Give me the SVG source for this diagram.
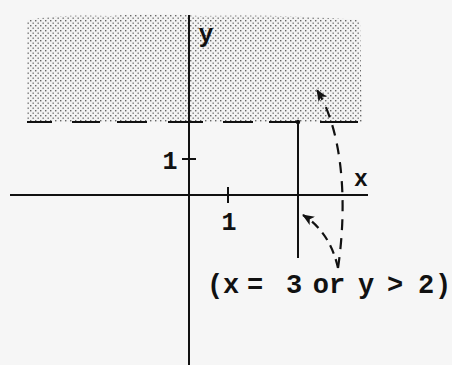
<svg xmlns="http://www.w3.org/2000/svg" width="452" height="365" viewBox="0 0 452 365">
<style>
.ax{stroke:#111;stroke-width:2;fill:none}
.dash{stroke:#111;stroke-width:2.2;fill:none;stroke-dasharray:11 8}
.lbl{font-family:"Liberation Mono",monospace;font-weight:bold;fill:#111}
</style>
<defs>
<pattern id="dots" width="5" height="5" patternUnits="userSpaceOnUse">
<rect width="5" height="5" fill="#f3f3f3"/>
<rect x="0" y="0" width="1.4" height="1.4" fill="#666"/>
<rect x="2.5" y="2.5" width="1.4" height="1.4" fill="#777"/>
</pattern>
<marker id="ah" viewBox="0 0 12 10" refX="11" refY="5" markerWidth="12" markerHeight="10" markerUnits="userSpaceOnUse" orient="auto">
<path d="M0,0 L12,5 L0,10 L3,5 z" fill="#111"/>
</marker>
</defs>
<rect width="452" height="365" fill="#f6f6f6"/>
<g id="shaded-region">
<path d="M27,20 Q60,14 110,16 Q150,12 200,16 Q280,14 360,20 L362,122 L27,122 z" fill="url(#dots)"/>
</g>
<g id="connectors">
<line class="ax" x1="189" y1="15" x2="189" y2="365"/>
<line class="ax" x1="10" y1="195" x2="368" y2="195"/>
<line class="ax" x1="182" y1="159" x2="196" y2="159"/>
<line class="ax" x1="228" y1="187" x2="228" y2="203"/>
<path d="M27,122 H52 M72,122 H100 M117,122 H147 M168,122 H203 M223,122 H253 M269,122 H298 M320,122 H358" stroke="#111" stroke-width="2.2" fill="none"/>
<circle cx="298" cy="122" r="2.2" fill="#111"/>
<line class="ax" x1="298" y1="122" x2="298" y2="258"/>
<path class="dash" d="M338,268 C348,200 342,130 317,90" marker-end="url(#ah)"/>
<path class="dash" style="stroke-dasharray:9 6" d="M338,268 Q330,232 303,215" marker-end="url(#ah)"/>
</g>
<g id="labels">
<text class="lbl" x="206" y="42" font-size="25" text-anchor="middle">y</text>
<text class="lbl" x="361" y="186" font-size="23" text-anchor="middle">x</text>
<text class="lbl" x="170" y="169" font-size="25" text-anchor="middle">1</text>
<text class="lbl" x="229" y="230" font-size="25" text-anchor="middle">1</text>
<text class="lbl" font-size="27" text-anchor="middle" y="293"><tspan x="215">(</tspan><tspan x="231">x</tspan><tspan x="255">=</tspan><tspan x="294">3</tspan><tspan x="329">or</tspan><tspan x="366">y</tspan><tspan x="395">&gt;</tspan><tspan x="426">2</tspan><tspan x="443">)</tspan></text>
</g>
</svg>
